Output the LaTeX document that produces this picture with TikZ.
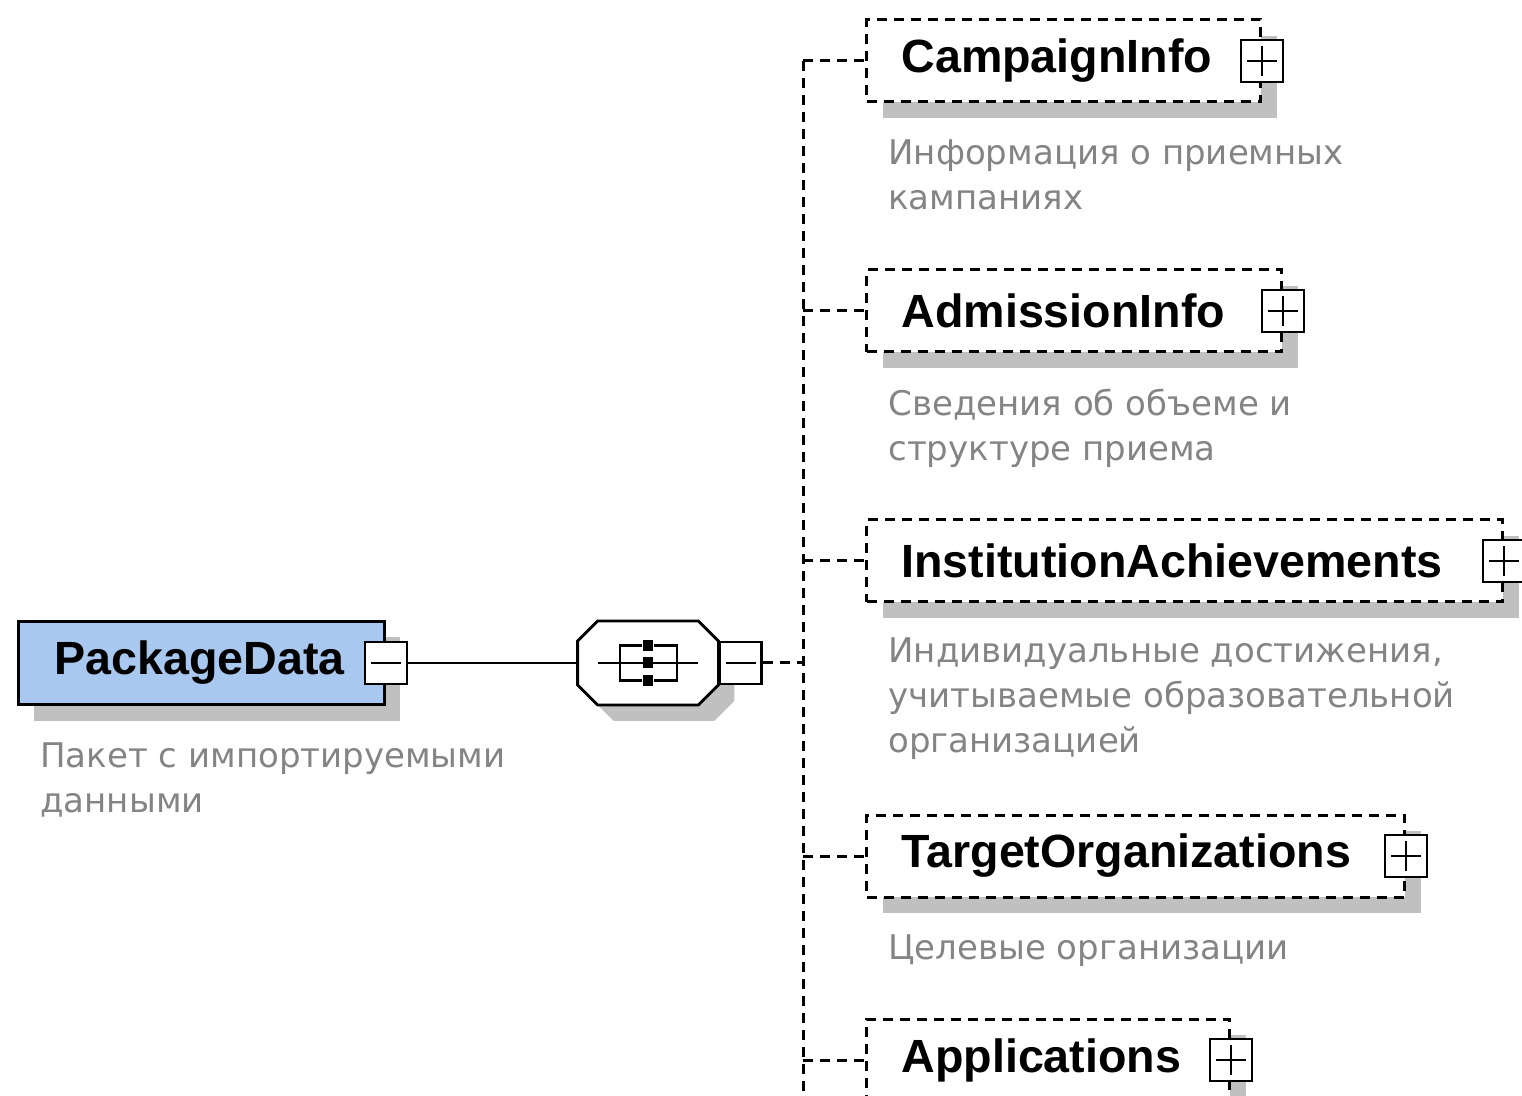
\documentclass[tikz,border=0pt]{standalone}
\usepackage{fontspec}
\setmainfont{Liberation Sans}
\newfontfamily\descfont{DejaVu Sans}
\usetikzlibrary{shadows}
\definecolor{elemblue}{RGB}{168,200,240}
\definecolor{descgray}{RGB}{132,132,132}
\definecolor{shadowgray}{RGB}{192,192,192}
\newcommand\seqoutline{([xshift=10pt]seq.north west) -- ([xshift=-10pt]seq.north east)
  -- ([yshift=-10pt]seq.north east) -- ([yshift=10pt]seq.south east)
  -- ([xshift=-10pt]seq.south east) -- ([xshift=10pt]seq.south west)
  -- ([yshift=10pt]seq.south west) -- ([yshift=-10pt]seq.north west) -- cycle}
\begin{document}
\begin{tikzpicture}[x=0.5pt,y=-0.5pt,
  boxshadow/.style={drop shadow={shadow xshift=8pt,shadow yshift=-8pt,opacity=1,fill=shadowgray}},
  labelfont/.style={font=\fontsize{23.3}{27}\selectfont\bfseries},
  rootbox/.style={draw,line width=1.4pt,fill=elemblue,boxshadow,labelfont,minimum height=41.5pt,
    inner xsep=18pt,anchor=west,align=left},
  childbox/.style={draw,line width=1.5pt,dash pattern=on 5pt off 3.5pt,fill=white,boxshadow,labelfont,
    minimum height=41pt,inner xsep=17.5pt,anchor=west,align=left},
  pmbox/.style={draw,line width=1.3pt,fill=white,minimum size=21pt,inner sep=0pt},
  minusbox/.style={pmbox,path picture={
    \draw[line width=1.3pt] (path picture bounding box.center) ++(-7.5pt,0) -- ++(15pt,0);}},
  plusbox/.style={pmbox,path picture={
    \draw[line width=1.3pt] (path picture bounding box.center) ++(-7.5pt,0) -- ++(15pt,0)
      (path picture bounding box.center) ++(0,-7.5pt) -- ++(0,15pt);}},
  seqbox/.style={minimum width=70pt,minimum height=41.5pt,inner sep=0pt},
  desc/.style={anchor=north west,inner sep=0pt,align=left,text=descgray,
    font=\descfont\fontsize{17}{22.5}\selectfont},
  link/.style={line width=1.5pt,dash pattern=on 5pt off 3.5pt}]
\useasboundingbox (0,0) rectangle (1522,1096);
% root element
\node[rootbox,text width=147pt] (root) at (17,663) {PackageData};
\node[minusbox] (rootminus) at (root.east) {};
\node[desc] (rootdesc) at (40,742) {Пакет с импортируемыми\\данными};
% sequence compositor
\node[seqbox] (seq) at (648,663) {};
\begin{scope}[transform canvas={shift={(8pt,-8pt)}}]
\fill[shadowgray] \seqoutline;
\end{scope}
\draw[line width=1.4pt,fill=white] \seqoutline;
\draw[line width=1.2pt] ([xshift=-25pt]seq.center) -- ([xshift=25pt]seq.center);
\draw[line width=1.2pt] ([xshift=-3pt,yshift=8.75pt]seq.center) -| ([xshift=-14pt,yshift=-8.75pt]seq.center) -- ([xshift=-3pt,yshift=-8.75pt]seq.center);
\draw[line width=1.2pt] ([xshift=3pt,yshift=8.75pt]seq.center) -| ([xshift=14.5pt,yshift=-8.75pt]seq.center) -- ([xshift=3pt,yshift=-8.75pt]seq.center);
\foreach \dy in {-8.75,0,8.75}
  \fill ([xshift=-2.5pt,yshift=\dy pt-2.75pt]seq.center) rectangle ++(5pt,5.5pt);
\node[minusbox,anchor=west] (seqminus) at (seq.east) {};
\draw[line width=1.3pt] (rootminus.east) -- (seq.west);
% children
\node[childbox,text width=162pt] (c1) at (865,61) {CampaignInfo};
\node[childbox,text width=172.5pt] (c2) at (865,311) {AdmissionInfo};
\node[childbox,text width=283pt] (c3) at (865,561) {InstitutionAchievements};
\node[childbox,text width=234pt] (c4) at (865,856) {TargetOrganizations};
\node[childbox,text width=146.5pt] (c5) at (865,1060) {Applications};
\foreach \c in {c1,c2,c3,c4,c5}
  \node[plusbox] (\c plus) at (\c.east) {};
\node[desc] (c1desc) at (888,139) {Информация о приемных\\кампаниях};
\node[desc] (c2desc) at (888,389) {Сведения об объеме и\\структуре приема};
\node[desc] (c3desc) at (888,637) {Индивидуальные достижения,\\учитываемые образовательной\\организацией};
\node[desc] (c4desc) at (888,934) {Целевые организации};
% dashed tree
\coordinate (spine) at (803,663);
\coordinate (spinebot) at (803,1096);
\draw[link] (seqminus.east) -- (spine);
\draw[link] (c1.west -| spine) -- (spinebot);
\foreach \c in {c1,c2,c3,c4,c5}
  \draw[link] (\c.west -| spine) -- (\c.west);
\end{tikzpicture}
\end{document}
